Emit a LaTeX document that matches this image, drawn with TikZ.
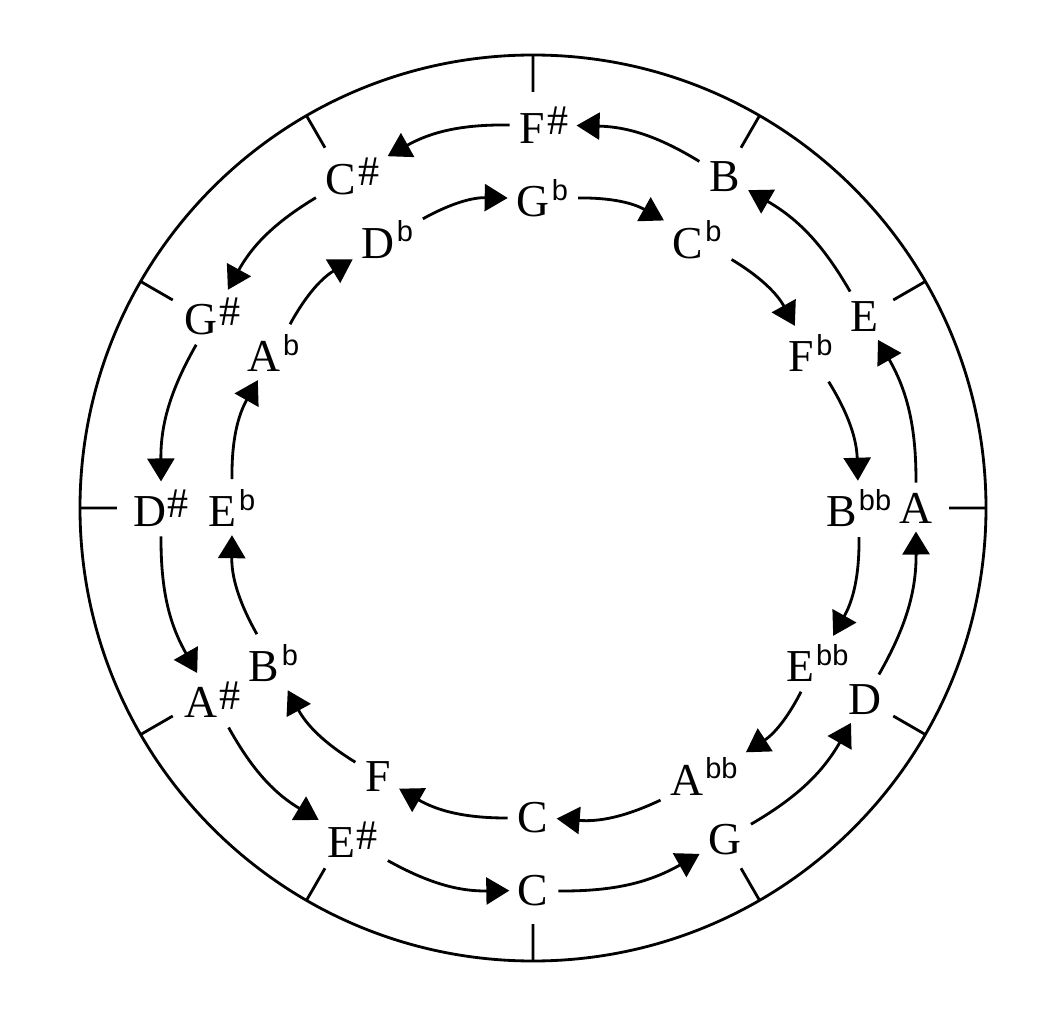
\documentclass[tikz,border=0pt]{standalone}
\usepackage{fontspec}
\setmainfont{Liberation Serif}
\newfontfamily\flatfont{Liberation Sans}
\usetikzlibrary{arrows.meta}
\newcommand{\shp}{\kern1pt\raisebox{0.17cm}{\fontsize{24}{24}\selectfont\#}}
\newcommand{\flt}{\kern1.5pt\raisebox{0.33cm}{\flatfont\fontsize{16.5}{16}\selectfont b}}
\newcommand{\dflt}{\kern1pt\raisebox{0.33cm}{\flatfont\fontsize{16.5}{16}\selectfont bb}}

\begin{document}
\begin{tikzpicture}[line width=1.6pt,
    note/.style={inner sep=4pt, font=\fontsize{26}{28}\selectfont},
    fifth/.style={-{Triangle[length=0.46cm,width=0.54cm]}, shorten <=1pt}]
    \useasboundingbox (-10.66,-10.02) rectangle (10.30,10.16);
    % ring and the twelve ticks
    \draw (0,0) circle (9.06cm);
    \draw (90:9.06) -- (90:8.32) (60:9.06) -- (60:8.32) (30:9.06) -- (30:8.32)
          (0:9.06) -- (0:8.32) (-30:9.06) -- (-30:8.32) (-60:9.06) -- (-60:8.32)
          (-90:9.06) -- (-90:8.32) (-120:9.06) -- (-120:8.32) (-150:9.06) -- (-150:8.32)
          (180:9.06) -- (180:8.32) (150:9.06) -- (150:8.32) (120:9.06) -- (120:8.32);

    % outer ring: sharps
    \node[note] (oC) at (0,-7.66) {C};
    \node[note] (oG) at (3.83,-6.63) {G};
    \node[note] (oD) at (6.63,-3.83) {D};
    \node[note] (oA) at (7.66,0) {A};
    \node[note] (oE) at (6.63,3.83) {E};
    \node[note] (oB) at (3.83,6.63) {B};
    \node[note] (oFs) at (0.22,7.66) {F\shp};
    \node[note] (oCs) at (-3.61,6.63) {C\shp};
    \node[note] (oGs) at (-6.41,3.83) {G\shp};
    \node[note] (oDs) at (-7.44,0) {D\shp};
    \node[note] (oAs) at (-6.41,-3.83) {A\shp};
    \node[note] (oEs) at (-3.61,-6.63) {E\shp};

    % inner ring: flats
    \node[note] (iC) at (0,-6.2) {C};
    \node[note] (iF) at (-3.1,-5.37) {F};
    \node[note] (iBb) at (-5.19,-3.1) {B\flt};
    \node[note] (iEb) at (-6.02,0) {E\flt};
    \node[note] (iAb) at (-5.19,3.1) {A\flt};
    \node[note] (iDb) at (-2.92,5.37) {D\flt};
    \node[note] (iGb) at (0.18,6.2) {G\flt};
    \node[note] (iCb) at (3.28,5.37) {C\flt};
    \node[note] (iFb) at (5.55,3.1) {F\flt};
    \node[note] (iBbb) at (6.52,0) {B\dflt};
    \node[note] (iEbb) at (5.69,-3.1) {E\dflt};
    \node[note] (iAbb) at (3.42,-5.37) {A\dflt};

    \draw[fifth] (oC) to[bend right=15] (oG);
    \draw[fifth] (oG) to[bend right=15] (oD);
    \draw[fifth] (oD) to[bend right=15] (oA);
    \draw[fifth] (oA) to[bend right=15] (oE);
    \draw[fifth] (oE) to[bend right=15] (oB);
    \draw[fifth] (oB) to[bend right=15] (oFs);
    \draw[fifth] (oFs) to[bend right=15] (oCs);
    \draw[fifth] (oCs) to[bend right=15] (oGs);
    \draw[fifth] (oGs) to[bend right=15] (oDs);
    \draw[fifth] (oDs) to[bend right=15] (oAs);
    \draw[fifth] (oAs) to[bend right=15] (oEs);
    \draw[fifth] (oEs) to[bend right=15] (oC);

    \draw[fifth] (iC) to[bend left=15] (iF);
    \draw[fifth] (iF) to[bend left=15] (iBb);
    \draw[fifth] (iBb) to[bend left=15] (iEb);
    \draw[fifth] (iEb) to[bend left=15] (iAb);
    \draw[fifth] (iAb) to[bend left=15] (iDb);
    \draw[fifth] (iDb) to[bend left=15] (iGb);
    \draw[fifth] (iGb) to[bend left=15] (iCb);
    \draw[fifth] (iCb) to[bend left=15] (iFb);
    \draw[fifth] (iFb) to[bend left=15] (iBbb);
    \draw[fifth] (iBbb) to[bend left=15] (iEbb);
    \draw[fifth] (iEbb) to[bend left=15] (iAbb);
    \draw[fifth] (iAbb) to[bend left=15] (iC);
\end{tikzpicture}
\end{document}
